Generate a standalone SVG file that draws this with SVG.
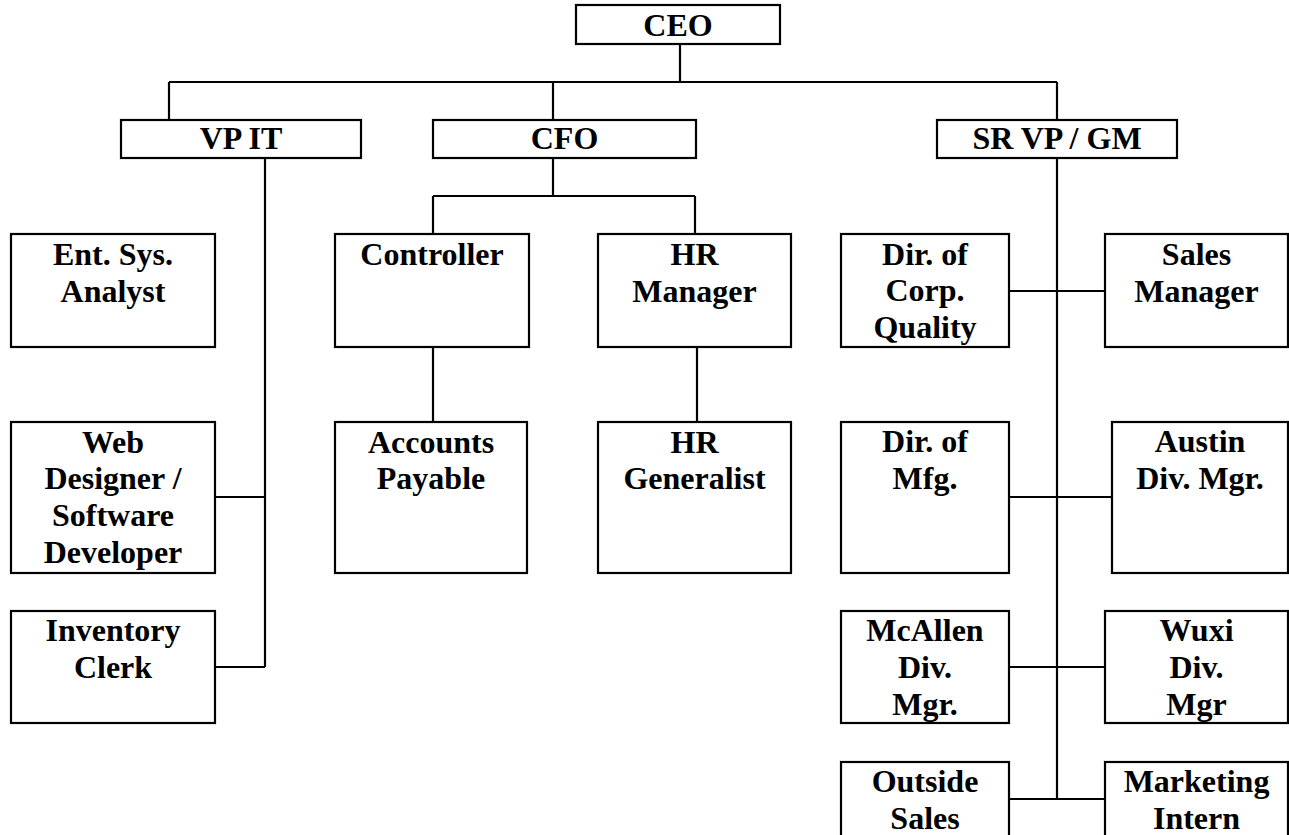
<svg xmlns="http://www.w3.org/2000/svg" width="1289" height="835" viewBox="0 0 1289 835">
<style>
.box{fill:#fff;stroke:#000;stroke-width:2.2}
.ln{fill:none;stroke:#000;stroke-width:2.2}
.t{font-family:"Liberation Serif","Times New Roman",serif;font-weight:bold;font-size:32px;text-anchor:middle;fill:#000}
</style>
<rect width="1289" height="835" fill="#fff"/>
<g id="connectors">
<path class="ln" d="M680,44V82M169,82H1057M169,82V120M553,82V120M1057,82V120"/>
<path class="ln" d="M265,158V667M215,497H265M215,667H265"/>
<path class="ln" d="M553,158V196M433,196H695M433,196V234M695,196V234M433,347V422M697,347V422"/>
<path class="ln" d="M1057,158V799M1009,291H1105M1009,497H1112M1009,667H1105M1009,799H1105"/>
</g>
<g id="ceo"><rect class="box" x="576" y="5" width="204" height="39"/><text class="t" x="678" y="36">CEO</text></g>
<g id="vpit"><rect class="box" x="121" y="120" width="240" height="38"/><text class="t" x="241" y="149">VP IT</text></g>
<g id="cfo"><rect class="box" x="433" y="120" width="263" height="38"/><text class="t" x="564.5" y="149">CFO</text></g>
<g id="srvp"><rect class="box" x="937" y="120" width="240" height="38"/><text class="t" x="1057" y="149">SR VP / GM</text></g>
<g id="entsys"><rect class="box" x="11" y="234" width="204" height="113"/><text class="t" y="265"><tspan x="113">Ent. Sys.</tspan><tspan x="113" dy="36.8">Analyst</tspan></text></g>
<g id="webdev"><rect class="box" x="11" y="422" width="204" height="151"/><text class="t" y="452.5"><tspan x="113">Web</tspan><tspan x="113" dy="36.8">Designer /</tspan><tspan x="113" dy="36.8">Software</tspan><tspan x="113" dy="36.8">Developer</tspan></text></g>
<g id="inventory"><rect class="box" x="11" y="611" width="204" height="112"/><text class="t" y="641"><tspan x="113">Inventory</tspan><tspan x="113" dy="36.8">Clerk</tspan></text></g>
<g id="controller"><rect class="box" x="335" y="234" width="194" height="113"/><text class="t" x="432" y="265">Controller</text></g>
<g id="ap"><rect class="box" x="335" y="422" width="192" height="151"/><text class="t" y="452.5"><tspan x="431">Accounts</tspan><tspan x="431" dy="36.8">Payable</tspan></text></g>
<g id="hrmgr"><rect class="box" x="598" y="234" width="193" height="113"/><text class="t" y="265"><tspan x="694.5">HR</tspan><tspan x="694.5" dy="36.8">Manager</tspan></text></g>
<g id="hrgen"><rect class="box" x="598" y="422" width="193" height="151"/><text class="t" y="452.5"><tspan x="694.5">HR</tspan><tspan x="694.5" dy="36.8">Generalist</tspan></text></g>
<g id="dirquality"><rect class="box" x="841" y="234" width="168" height="113"/><text class="t" y="265"><tspan x="925">Dir. of</tspan><tspan x="925" dy="36.3">Corp.</tspan><tspan x="925" dy="36.3">Quality</tspan></text></g>
<g id="salesmgr"><rect class="box" x="1105" y="234" width="183" height="113"/><text class="t" y="265"><tspan x="1196.5">Sales</tspan><tspan x="1196.5" dy="36.8">Manager</tspan></text></g>
<g id="dirmfg"><rect class="box" x="841" y="422" width="168" height="151"/><text class="t" y="452"><tspan x="925">Dir. of</tspan><tspan x="925" dy="36.8">Mfg.</tspan></text></g>
<g id="austin"><rect class="box" x="1112" y="422" width="176" height="151"/><text class="t" y="452"><tspan x="1200">Austin</tspan><tspan x="1200" dy="36.8">Div. Mgr.</tspan></text></g>
<g id="mcallen"><rect class="box" x="841" y="611" width="168" height="112"/><text class="t" y="640.5"><tspan x="925">McAllen</tspan><tspan x="925" dy="37">Div.</tspan><tspan x="925" dy="37">Mgr.</tspan></text></g>
<g id="wuxi"><rect class="box" x="1105" y="611" width="183" height="112"/><text class="t" y="640.5"><tspan x="1196.5">Wuxi</tspan><tspan x="1196.5" dy="37">Div.</tspan><tspan x="1196.5" dy="37">Mgr</tspan></text></g>
<g id="outside"><rect class="box" x="841" y="762" width="168" height="90"/><text class="t" y="792"><tspan x="925">Outside</tspan><tspan x="925" dy="36.5">Sales</tspan></text></g>
<g id="marketing"><rect class="box" x="1105" y="762" width="183" height="90"/><text class="t" y="792"><tspan x="1196.5">Marketing</tspan><tspan x="1196.5" dy="36.5">Intern</tspan></text></g>
</svg>
